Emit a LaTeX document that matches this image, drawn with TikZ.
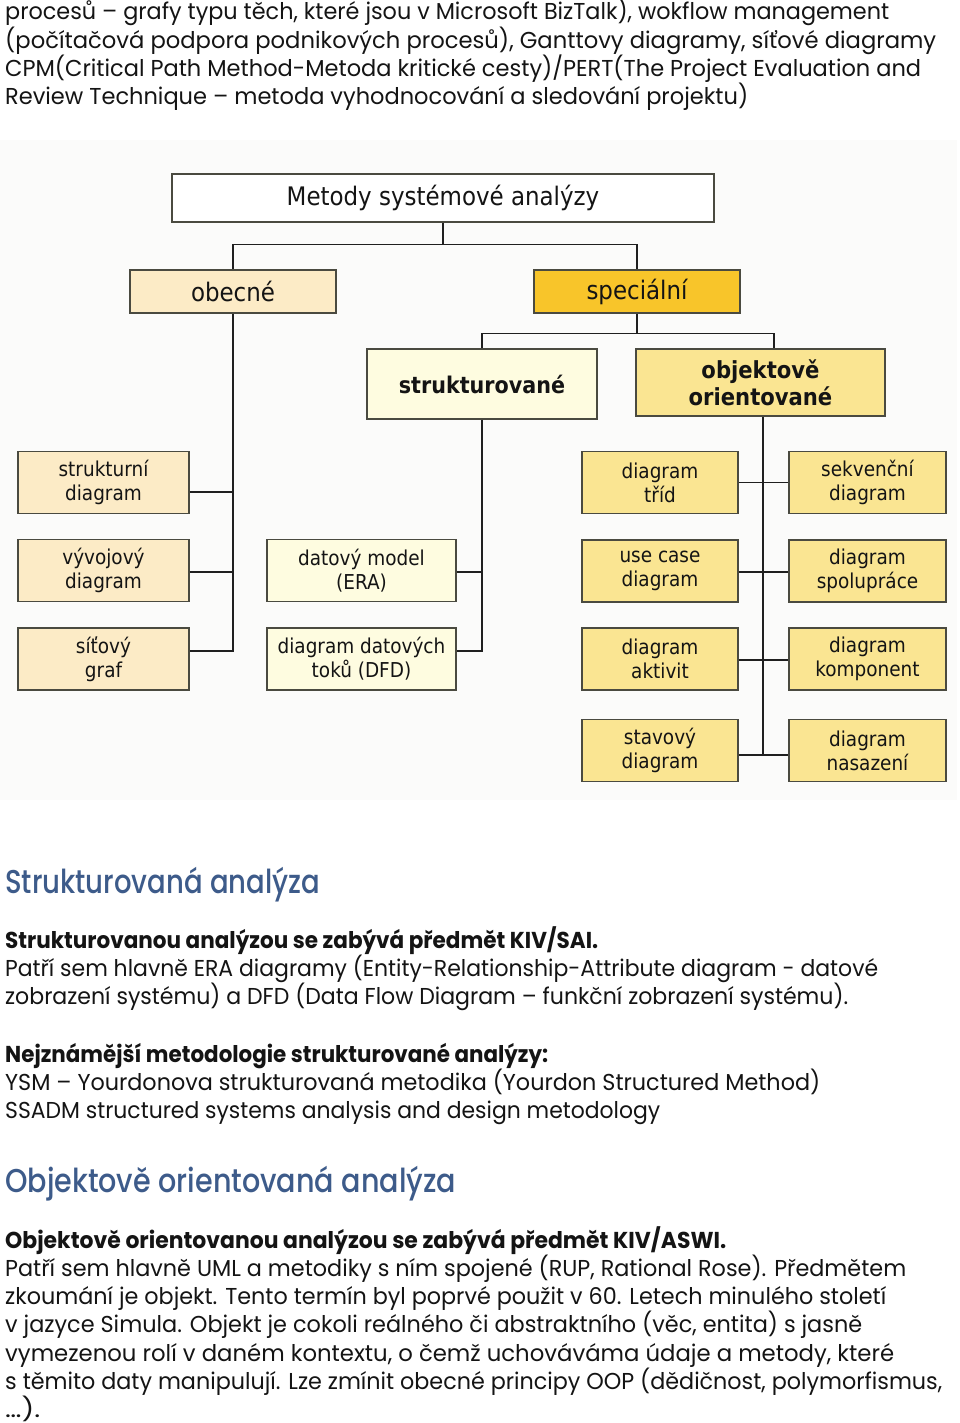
\documentclass[tikz,border=0pt]{standalone}
\usepackage{fontspec}
\usepackage{graphicx}
\setmainfont{Poppins}
\newfontfamily\dfont{DejaVu Sans Condensed}
\newfontfamily\headfont{Poppins Medium}
\definecolor{peach}{HTML}{FCEBC6}
\definecolor{gold}{HTML}{F8C52A}
\definecolor{pale}{HTML}{FEFCE0}
\definecolor{oocol}{HTML}{FAE592}
\definecolor{bord}{HTML}{4A4A40}
\definecolor{headblue}{HTML}{3D5B8A}
\definecolor{diagbg}{HTML}{FBFBFA}
\newcommand\txtline[4]{\node[txt] (#1) at (5,#2) {\resizebox{#3pt}{\height}{#4}};}
\begin{document}
\begin{tikzpicture}[x=1pt,y=-1pt,
  box/.style={draw=bord, line width=1.3pt, inner sep=0pt, align=center,
    font=\dfont\fontsize{20.5}{24}\selectfont, text=black!92},
  small/.style={box, minimum height=62},
  conn/.style={line width=1.6pt, draw=black!88},
  txt/.style={anchor=base west, inner sep=0pt, font=\fontsize{23}{28}\selectfont, text=black!92},
  bodybold/.style={txt, font=\fontsize{23}{28}\selectfont\bfseries},
  head/.style={txt, font=\headfont\fontsize{33}{40}\selectfont, text=headblue}]
\useasboundingbox (0,0) rectangle (960,1423);
\fill[white] (0,0) rectangle (960,1423);
\fill[diagbg] (0,140) rectangle (957,800);

% ---------- diagram ----------
\node[box, fill=white, minimum width=542, minimum height=48,
  font=\dfont\fontsize{25.5}{28}\selectfont] (metody) at (443,198) {Metody systémové analýzy};
\node[box, fill=peach, minimum width=206, minimum height=43,
  font=\dfont\fontsize{25.5}{28}\selectfont] (obecne) at (233,291.5) {obecné};
\node[box, fill=gold, minimum width=206, minimum height=43,
  font=\dfont\fontsize{25.5}{28}\selectfont] (special) at (637,291.5) {speciální};
\node[box, fill=pale, minimum width=230, minimum height=70,
  font=\dfont\fontsize{23}{27}\selectfont\bfseries] (strukt) at (482,384) {strukturované};
\node[box, fill=oocol, minimum width=249, minimum height=67,
  font=\dfont\fontsize{23.5}{27}\selectfont\bfseries] (oo) at (760.5,382.5) {objektově\\orientované};

\node[small, fill=peach, minimum width=171] (sd) at (103.5,482.5) {strukturní\\diagram};
\node[small, fill=peach, minimum width=171] (vd) at (103.5,570.5) {vývojový\\diagram};
\node[small, fill=peach, minimum width=171] (sg) at (103.5,659) {síťový\\graf};

\node[small, fill=pale, minimum width=189] (era) at (361.5,570.5) {datový model\\(ERA)};
\node[small, fill=pale, minimum width=189] (dfd) at (361.5,659) {diagram datových\\toků (DFD)};

\node[small, fill=oocol, minimum width=156] (dt) at (660,482.5) {diagram\\tříd};
\node[small, fill=oocol, minimum width=156] (uc) at (660,571) {use case\\diagram};
\node[small, fill=oocol, minimum width=156] (da) at (660,659) {diagram\\aktivit};
\node[small, fill=oocol, minimum width=156] (sv) at (660,750.5) {stavový\\diagram};
\node[small, fill=oocol, minimum width=157] (sk) at (867.5,482.5) {sekvenční\\diagram};
\node[small, fill=oocol, minimum width=157] (sp) at (867.5,571) {diagram\\spolupráce};
\node[small, fill=oocol, minimum width=157] (dk) at (867.5,659) {diagram\\komponent};
\node[small, fill=oocol, minimum width=157] (dn) at (867.5,750.5) {diagram\\nasazení};

% connector attachment points
\coordinate (sdc) at ([yshift=-9.5pt]sd.east);
\coordinate (vdc) at ([yshift=-1.5pt]vd.east);
\coordinate (sgc) at ([yshift=8pt]sg.east);
\coordinate (erac) at ([yshift=-1.5pt]era.east);
\coordinate (dfdc) at ([yshift=8pt]dfd.east);
\coordinate (ooc) at ([xshift=2.5pt]oo.south);
\coordinate (svc) at ([yshift=-4.5pt]sv.east);
\coordinate (dnc) at ([yshift=-4.5pt]dn.west);
\coordinate (ucc) at ([yshift=-1pt]uc.east);
\coordinate (spc) at ([yshift=-1pt]sp.west);
\coordinate (dac) at ([yshift=-1pt]da.east);
\coordinate (dkc) at ([yshift=-1pt]dk.west);
\coordinate (ootop) at ([xshift=13.5pt]oo.north);

% connectors
\draw[conn] (metody.south) -- ++(0,22) coordinate (j1) -| (obecne.north);
\draw[conn] (j1) -| (special.north);
\draw[conn] (special.south) -- ++(0,20) coordinate (j2) -| (strukt.north);
\draw[conn] (j2) -| (ootop);

\draw[conn] (obecne.south) -- (obecne.south |- sgc) -- (sgc);
\draw[conn] (sdc) -- (sdc -| obecne.south);
\draw[conn] (vdc) -- (vdc -| obecne.south);

\draw[conn] (strukt.south) -- (strukt.south |- dfdc) -- (dfdc);
\draw[conn] (erac) -- (erac -| strukt.south);

\draw[conn] (ooc) -- (ooc |- svc);
\draw[conn] (dt.east) -- (sk.west);
\draw[conn] (ucc) -- (spc);
\draw[conn] (dac) -- (dkc);
\draw[conn] (svc) -- (dnc);

% ---------- text ----------
\txtline{t1}{20}{884}{procesů – grafy typu těch, které jsou v Microsoft BizTalk), wokflow management}
\txtline{t2}{48.3}{931}{(počítačová podpora podnikových procesů), Ganttovy diagramy, síťové diagramy}
\txtline{t3}{76.6}{916}{CPM(Critical Path Method-Metoda kritické cesty)/PERT(The Project Evaluation and}
\txtline{t4}{104.9}{743}{Review Technique – metoda vyhodnocování a sledování projektu)}

\node[head] (h1) at (5,893) {\resizebox{315pt}{\height}{Strukturovaná analýza}};
\node[bodybold] (b1) at (5,948) {\resizebox{593pt}{\height}{Strukturovanou analýzou se zabývá předmět KIV/SAI.}};
\txtline{s1}{976.3}{873}{Patří sem hlavně ERA diagramy (Entity-Relationship-Attribute diagram - datové}
\txtline{s2}{1004.6}{843}{zobrazení systému) a DFD (Data Flow Diagram – funkční zobrazení systému).}
\node[bodybold] (b2) at (5,1062) {\resizebox{543pt}{\height}{Nejznámější metodologie strukturované analýzy:}};
\txtline{s3}{1090.3}{815}{YSM – Yourdonova strukturovaná metodika (Yourdon Structured Method)}
\txtline{s4}{1118.6}{655}{SSADM structured systems analysis and design metodology}

\node[head] (h2) at (5,1192) {\resizebox{451pt}{\height}{Objektově orientovaná analýza}};
\node[bodybold] (b3) at (5,1248) {\resizebox{721pt}{\height}{Objektově orientovanou analýzou se zabývá předmět KIV/ASWI.}};
\txtline{o1}{1276.3}{901}{Patří sem hlavně UML a metodiky s ním spojené (RUP, Rational Rose). Předmětem}
\txtline{o2}{1304.6}{881}{zkoumání je objekt. Tento termín byl poprvé použit v 60. Letech minulého století}
\txtline{o3}{1332.9}{857}{v jazyce Simula. Objekt je cokoli reálného či abstraktního (věc, entita) s jasně}
\txtline{o4}{1361.2}{889}{vymezenou rolí v daném kontextu, o čemž uchováváma údaje a metody, které}
\txtline{o5}{1389.5}{937}{s těmito daty manipulují. Lze zmínit obecné principy OOP (dědičnost, polymorfismus,}
\txtline{o6}{1417.8}{35}{…).}
\end{tikzpicture}
\end{document}
